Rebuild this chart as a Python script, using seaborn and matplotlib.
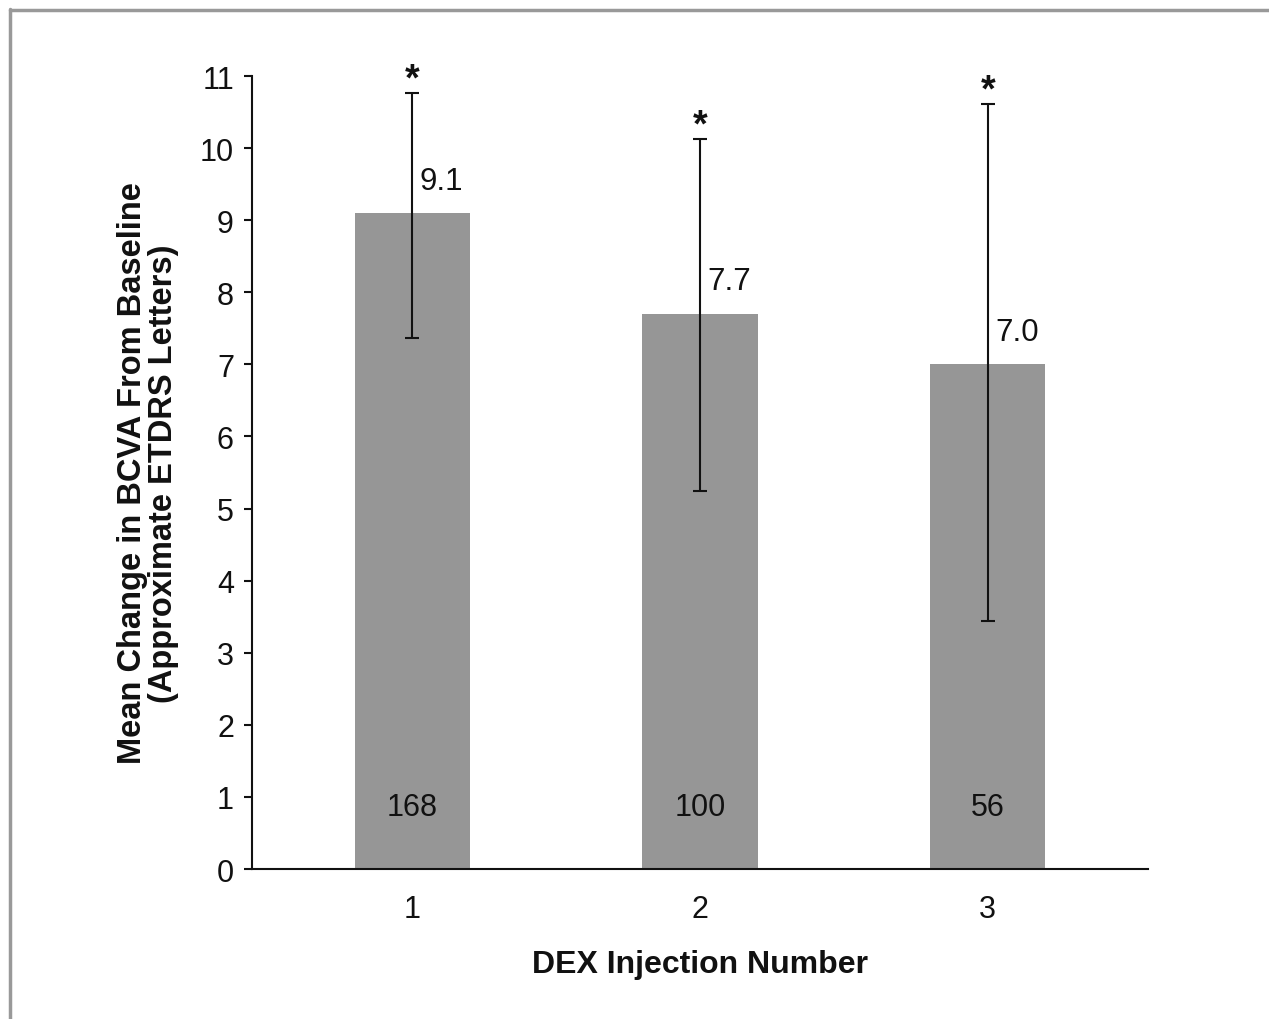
import matplotlib
matplotlib.use("Agg")
import matplotlib.pyplot as plt
import matplotlib.lines as mlines
import seaborn as sns
import pandas as pd
import numpy as np

# Data
injections = ["1", "2", "3"]
mean_change = [9.1, 7.7, 7.0]
ci_low = [7.37, 5.24, 3.44]
ci_high = [10.76, 10.12, 10.61]
n_patients = ["168", "100", "56"]
value_labels = ["9.1", "7.7", "7.0"]
yticks = list(range(0, 12))

sns.set_theme(style="white")
plt.rcParams['font.family'] = ['Liberation Sans', 'DejaVu Sans']

df = pd.DataFrame({"inj": injections, "val": mean_change})

fig = plt.figure(figsize=(12.69, 10.20), dpi=100)
ax = fig.add_axes([0.1986, 0.147, 0.706, 0.7775])

sns.barplot(data=df, x="inj", y="val", order=injections, color="#969696",
            saturation=1, width=0.4, ax=ax, errorbar=None)
for p in ax.patches:
    p.set_edgecolor("none")

xs = np.arange(len(injections))
lower = np.array(mean_change) - np.array(ci_low)
upper = np.array(ci_high) - np.array(mean_change)
ax.errorbar(xs, mean_change, yerr=[lower, upper], fmt="none", ecolor="#111111",
            elinewidth=1.5, capsize=5, capthick=1.5)

for x, v, hi, lab, n in zip(xs, mean_change, ci_high, value_labels, n_patients):
    ax.text(x + 0.025, v + 0.45, lab, ha="left", va="center", fontsize=22.5, color="#111111")
    ax.text(x, hi + 0.05, "*", ha="center", va="baseline", fontsize=27, fontweight="bold", color="#111111")
    ax.text(x, 0.86, n, ha="center", va="center", fontsize=22, color="#111111")

ax.set_xlim(-0.557, 2.557)
ax.set_ylim(0, 11)
ax.set_yticks(yticks)
ax.set_yticklabels([str(t) for t in yticks], fontsize=22, color="#111111")
ax.tick_params(axis="y", which="major", left=True, length=6, width=1.5, pad=7, color="#111111", direction="out")
ax.tick_params(axis="x", length=0, pad=18, labelsize=22, labelcolor="#111111")

for s in ["top", "right"]:
    ax.spines[s].set_visible(False)
for s in ["left", "bottom"]:
    ax.spines[s].set_linewidth(1.5)
    ax.spines[s].set_color("#111111")

ax.set_xlabel("DEX Injection Number", fontsize=23, fontweight="bold", color="#111111", labelpad=18)
ax.set_ylabel("Mean Change in BCVA From Baseline\n(Approximate ETDRS Letters)", fontsize=23.5,
              fontweight="bold", color="#111111", labelpad=15, linespacing=1.0)

# Frame lines (top and left only, as in the reference)
fig.add_artist(mlines.Line2D([9.5/1269, 9.5/1269], [0, 1 - 10/1020], transform=fig.transFigure,
                             color="#999999", lw=2.5))
fig.add_artist(mlines.Line2D([9.5/1269, 1], [1 - 11/1020, 1 - 11/1020], transform=fig.transFigure,
                             color="#999999", lw=2.5))

fig.savefig("out.png", dpi=100, facecolor="white")
